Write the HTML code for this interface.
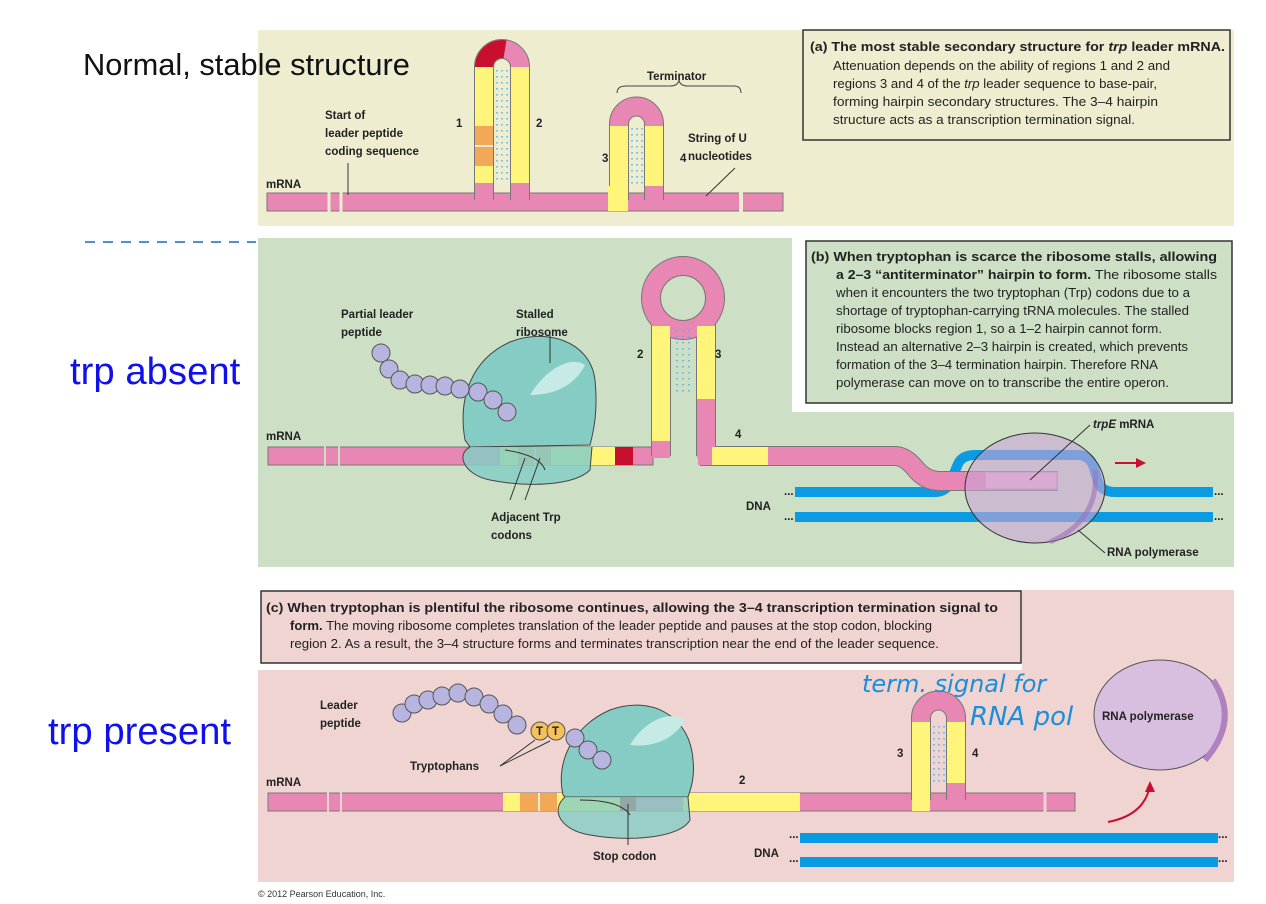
<!DOCTYPE html>
<html><head><meta charset="utf-8"><style>
html,body{margin:0;padding:0;background:#fff;}
svg{display:block;font-family:"Liberation Sans",sans-serif;}
.t{font-size:12.5px;fill:#222;}
.b{font-weight:bold;}
.l{font-size:11.5px;font-weight:bold;fill:#222;}
</style></head><body>
<svg width="1266" height="904" viewBox="0 0 1266 904" xmlns="http://www.w3.org/2000/svg">
<rect x="258" y="30" width="976" height="196" fill="#efedd0"/>
<rect x="803" y="30" width="427" height="110" fill="#efedd0" stroke="#333" stroke-width="1.5"/>
<text class="t" x="810" y="51" textLength="415" lengthAdjust="spacingAndGlyphs"><tspan class="b">(a) The most stable secondary structure for <tspan font-style="italic">trp</tspan> leader mRNA.</tspan></text>
<text class="t" x="833" y="70" textLength="337" lengthAdjust="spacingAndGlyphs">Attenuation depends on the ability of regions 1 and 2 and</text>
<text class="t" x="833" y="88" textLength="324" lengthAdjust="spacingAndGlyphs">regions 3 and 4 of the <tspan font-style="italic">trp</tspan> leader sequence to base-pair,</text>
<text class="t" x="833" y="106" textLength="325" lengthAdjust="spacingAndGlyphs">forming hairpin secondary structures. The 3–4 hairpin</text>
<text class="t" x="833" y="124" textLength="302" lengthAdjust="spacingAndGlyphs">structure acts as a transcription termination signal.</text>
<rect x="267" y="193" width="516" height="18" fill="#e887b3" stroke="#777" stroke-width="1"/>
<line x1="329" y1="192" x2="329" y2="212" stroke="#efedd0" stroke-width="3"/>
<line x1="341" y1="192" x2="341" y2="212" stroke="#efedd0" stroke-width="3"/>
<line x1="741" y1="192" x2="741" y2="212" stroke="#efedd0" stroke-width="4"/>
<path d="M484 200 L484 67 A18 18 0 0 1 520 67 L520 200" fill="none" stroke="#777" stroke-width="20"/>
<path d="M484 202 L484 67 A18 18 0 0 1 520 67 L520 202" fill="none" stroke="#e887b3" stroke-width="18"/>
<path d="M484 67 A18 18 0 0 1 505 49.3" fill="none" stroke="#c8102e" stroke-width="18"/>
<rect x="475" y="67" width="18" height="116" fill="#fff57a"/>
<rect x="511" y="67" width="18" height="116" fill="#fff57a"/>
<rect x="475" y="126" width="18" height="40" fill="#f3a857"/>
<line x1="475" y1="146" x2="493" y2="146" stroke="#fff" stroke-width="1.5"/>
<path d="M497 70V180M502 70V180M507 70V180" stroke="#4fb3e8" stroke-width="1.5" stroke-dasharray="1.5 4.5"/>
<path d="M619 200 L619 124 A17.5 17.5 0 0 1 654 124 L654 200" fill="none" stroke="#777" stroke-width="20"/>
<path d="M619 202 L619 124 A17.5 17.5 0 0 1 654 124 L654 202" fill="none" stroke="#e887b3" stroke-width="18"/>
<rect x="610" y="126" width="18" height="60" fill="#fff57a"/>
<rect x="645" y="126" width="18" height="60" fill="#fff57a"/>
<rect x="608" y="186" width="20" height="25" fill="#fff57a"/>
<path d="M632 128V185M637 128V185M642 128V185" stroke="#4fb3e8" stroke-width="1.5" stroke-dasharray="1.5 4.5"/>
<path d="M617 93 Q617 86 626 86 L670 86 Q678 86 679 80 Q680 86 688 86 L734 86 Q741 86 741 93" fill="none" stroke="#444" stroke-width="1"/>
<text class="l" x="647" y="80">Terminator</text>
<text class="l" x="325" y="119">Start of</text>
<text class="l" x="325" y="137">leader peptide</text>
<text class="l" x="325" y="155">coding sequence</text>
<line x1="348" y1="163" x2="348" y2="195" stroke="#333"/>
<text class="l" x="456" y="127">1</text><text class="l" x="536" y="127">2</text>
<text class="l" x="602" y="162">3</text><text class="l" x="680" y="162">4</text>
<text class="l" x="688" y="142">String of U</text><text class="l" x="688" y="160">nucleotides</text>
<line x1="735" y1="168" x2="706" y2="196" stroke="#333"/>
<text class="l" x="266" y="188">mRNA</text>
<text x="83" y="75" font-size="30.8" fill="#111">Normal, stable structure</text>
<line x1="85" y1="242" x2="256" y2="242" stroke="#4a8fd8" stroke-width="2" stroke-dasharray="10 8"/>

<rect x="258" y="238" width="976" height="329" fill="#cde0c6"/>
<rect x="792" y="238" width="442" height="174" fill="#fff"/>
<rect x="806" y="241" width="426" height="162" fill="#cde0c6" stroke="#333" stroke-width="1.5"/>
<text class="t" x="811" y="261" textLength="406" lengthAdjust="spacingAndGlyphs"><tspan class="b">(b) When tryptophan is scarce the ribosome stalls, allowing</tspan></text>
<text class="t" x="836" y="279" textLength="381" lengthAdjust="spacingAndGlyphs"><tspan class="b">a 2–3 “antiterminator” hairpin to form.</tspan> The ribosome stalls</text>
<text class="t" x="836" y="297" textLength="354" lengthAdjust="spacingAndGlyphs">when it encounters the two tryptophan (Trp) codons due to a</text>
<text class="t" x="836" y="315" textLength="353" lengthAdjust="spacingAndGlyphs">shortage of tryptophan-carrying tRNA molecules. The stalled</text>
<text class="t" x="836" y="333" textLength="326" lengthAdjust="spacingAndGlyphs">ribosome blocks region 1, so a 1–2 hairpin cannot form.</text>
<text class="t" x="836" y="351" textLength="352" lengthAdjust="spacingAndGlyphs">Instead an alternative 2–3 hairpin is created, which prevents</text>
<text class="t" x="836" y="369" textLength="322" lengthAdjust="spacingAndGlyphs">formation of the 3–4 termination hairpin. Therefore RNA</text>
<text class="t" x="836" y="387" textLength="333" lengthAdjust="spacingAndGlyphs">polymerase can move on to transcribe the entire operon.</text>
<path d="M795 492 L935 492 Q948 492 952 478 L958 464 Q962 455 975 455 L1078 455 Q1090 455 1094 468 L1098 482 Q1102 492 1115 492 L1213 492" fill="none" stroke="#0a9be3" stroke-width="10"/>
<rect x="795" y="512" width="418" height="10" fill="#0a9be3"/>
<text class="l" x="784" y="495">...</text><text class="l" x="784" y="520">...</text>
<text class="l" x="1214" y="495">...</text><text class="l" x="1214" y="520">...</text>
<rect x="268" y="447" width="385" height="18" fill="#e887b3" stroke="#777"/>
<line x1="325" y1="446" x2="325" y2="466" stroke="#cde0c6" stroke-width="2"/>
<line x1="339" y1="446" x2="339" y2="466" stroke="#cde0c6" stroke-width="2"/>
<path d="M700 456 L895 456 Q905 456 915 468 Q925 481 940 481 L1058 481" fill="none" stroke="#777" stroke-width="20"/>
<path d="M698 456 L895 456 Q905 456 915 468 Q925 481 940 481 L1058 481" fill="none" stroke="#e887b3" stroke-width="18"/>
<circle cx="683" cy="298" r="32" fill="none" stroke="#777" stroke-width="20"/>
<path d="M661 456 L661 322 M706 456 L706 322" stroke="#777" stroke-width="20"/>
<circle cx="683" cy="298" r="32" fill="none" stroke="#e887b3" stroke-width="18"/>
<path d="M661 458 L661 322 M706 458 L706 322" stroke="#e887b3" stroke-width="18"/>
<rect x="652" y="326" width="18" height="115" fill="#fff57a"/>
<rect x="697" y="326" width="18" height="73" fill="#fff57a"/>
<path d="M677 330V395M683 330V395M689 330V395" stroke="#4fb3e8" stroke-width="1.5" stroke-dasharray="1.5 4.5"/>
<rect x="500" y="447" width="115" height="18" fill="#fff57a"/>
<rect x="518" y="447" width="33" height="18" fill="#f3a857"/>
<line x1="535" y1="447" x2="535" y2="465" stroke="#fff" stroke-width="1.5"/>
<rect x="615" y="447" width="18" height="18" fill="#c8102e"/>
<rect x="712" y="447" width="56" height="18" fill="#fff57a"/>
<rect x="985" y="472" width="72" height="17" fill="#f4b4d2" stroke="#999" stroke-width="0.8"/>
<ellipse cx="1035" cy="488" rx="70" ry="55" fill="#c9a3d6" fill-opacity="0.6" stroke="#333" stroke-width="1"/>
<path d="M1095 470 Q1100 520 1050 542" fill="none" stroke="#a070b8" stroke-width="5" opacity="0.6"/>
<line x1="1115" y1="463" x2="1140" y2="463" stroke="#c8102e" stroke-width="2"/>
<path d="M1146 463 L1136 458 L1136 468 Z" fill="#c8102e"/>
<line x1="1090" y1="425" x2="1030" y2="480" stroke="#333"/>
<text class="l" x="1093" y="428"><tspan font-style="italic">trpE</tspan> mRNA</text>
<line x1="1078" y1="530" x2="1105" y2="553" stroke="#333"/>
<text class="l" x="1107" y="556">RNA polymerase</text>
<text class="l" x="746" y="510">DNA</text>
<path d="M465 440 C458 400 470 360 510 342 C545 328 590 340 595 380 C598 410 594 430 590 445 L470 447 Z" fill="#85cdc4" stroke="#444" stroke-width="1"/>
<path d="M530 395 C545 370 570 355 585 365 C575 385 555 395 530 395 Z" fill="#c6ebe6"/>
<path d="M470 447 C455 455 465 475 490 480 C530 488 575 485 590 470 L592 447" fill="#85cdc4" fill-opacity="0.85" stroke="#444" stroke-width="1"/>
<path d="M505 450 Q540 455 545 470" fill="none" stroke="#333"/>
<line x1="510" y1="500" x2="525" y2="458" stroke="#333"/><line x1="525" y1="500" x2="540" y2="458" stroke="#333"/>
<line x1="550" y1="363" x2="550" y2="335" stroke="#333"/>
<g fill="#b8b4e0" stroke="#555" stroke-width="1">
<circle cx="381" cy="353" r="9"/><circle cx="389" cy="369" r="9"/><circle cx="400" cy="380" r="9"/><circle cx="415" cy="384" r="9"/><circle cx="430" cy="385" r="9"/><circle cx="445" cy="386" r="9"/><circle cx="460" cy="389" r="9"/><circle cx="478" cy="392" r="9"/><circle cx="493" cy="400" r="9"/><circle cx="507" cy="412" r="9"/>
</g>
<text class="l" x="341" y="318">Partial leader</text><text class="l" x="341" y="336">peptide</text>
<text class="l" x="516" y="318">Stalled</text><text class="l" x="516" y="336">ribosome</text>
<text class="l" x="491" y="521">Adjacent Trp</text><text class="l" x="491" y="539">codons</text>
<text class="l" x="266" y="440">mRNA</text>
<text class="l" x="637" y="358">2</text><text class="l" x="715" y="358">3</text><text class="l" x="735" y="438">4</text>
<text x="70" y="384" font-size="38.3" fill="#1010ee">trp absent</text>

<rect x="258" y="670" width="976" height="212" fill="#efd4d2"/>
<rect x="1022" y="590" width="212" height="82" fill="#efd4d2"/>
<rect x="261" y="591" width="760" height="72" fill="#efd4d2" stroke="#333" stroke-width="1.5"/>
<text class="t" x="266" y="612" textLength="732" lengthAdjust="spacingAndGlyphs"><tspan class="b">(c) When tryptophan is plentiful the ribosome continues, allowing the 3–4 transcription termination signal to</tspan></text>
<text class="t" x="290" y="630" textLength="642" lengthAdjust="spacingAndGlyphs"><tspan class="b">form.</tspan> The moving ribosome completes translation of the leader peptide and pauses at the stop codon, blocking</text>
<text class="t" x="290" y="648" textLength="649" lengthAdjust="spacingAndGlyphs">region 2. As a result, the 3–4 structure forms and terminates transcription near the end of the leader sequence.</text>
<rect x="800" y="833" width="418" height="10" fill="#0a9be3"/>
<rect x="800" y="857" width="418" height="10" fill="#0a9be3"/>
<text class="l" x="789" y="838">...</text><text class="l" x="789" y="862">...</text>
<text class="l" x="1218" y="838">...</text><text class="l" x="1218" y="862">...</text>
<text class="l" x="754" y="857">DNA</text>
<rect x="268" y="793" width="807" height="18" fill="#e887b3" stroke="#777"/>
<line x1="328" y1="792" x2="328" y2="812" stroke="#efd4d2" stroke-width="2"/>
<line x1="341" y1="792" x2="341" y2="812" stroke="#efd4d2" stroke-width="2"/>
<line x1="1045" y1="792" x2="1045" y2="812" stroke="#efd4d2" stroke-width="3"/>
<path d="M921 800 L921 718 A17.5 17.5 0 0 1 956 718 L956 800" fill="none" stroke="#777" stroke-width="20"/>
<path d="M921 802 L921 718 A17.5 17.5 0 0 1 956 718 L956 802" fill="none" stroke="#e887b3" stroke-width="18"/>
<rect x="912" y="722" width="18" height="89" fill="#fff57a"/>
<rect x="947" y="722" width="18" height="61" fill="#fff57a"/>
<path d="M934 726V783M939 726V783M944 726V783" stroke="#4fb3e8" stroke-width="1.5" stroke-dasharray="1.5 4.5"/>
<rect x="503" y="793" width="117" height="18" fill="#fff57a"/>
<rect x="520" y="793" width="37" height="18" fill="#f3a857"/>
<line x1="539" y1="793" x2="539" y2="811" stroke="#fff" stroke-width="1.5"/>
<rect x="620" y="793" width="16" height="18" fill="#c8102e"/>
<rect x="683" y="793" width="117" height="18" fill="#fff57a"/>
<path d="M563 795 C555 760 575 725 610 710 C650 695 690 715 693 760 C695 780 690 790 688 797 L565 797 Z" fill="#85cdc4" stroke="#444" stroke-width="1"/>
<path d="M630 745 C645 720 670 710 685 720 C675 738 655 748 630 745 Z" fill="#c6ebe6"/>
<path d="M565 797 C550 810 560 830 590 835 C630 842 680 838 690 820 L688 797" fill="#85cdc4" fill-opacity="0.8" stroke="#444" stroke-width="1"/>
<path d="M580 800 Q620 800 630 815" fill="none" stroke="#333"/>
<line x1="628" y1="804" x2="628" y2="845" stroke="#333"/>
<g fill="#b8b4e0" stroke="#555" stroke-width="1">
<circle cx="402" cy="713" r="9"/><circle cx="414" cy="704" r="9"/><circle cx="428" cy="700" r="9"/><circle cx="442" cy="696" r="9"/><circle cx="458" cy="693" r="9"/><circle cx="474" cy="697" r="9"/><circle cx="489" cy="704" r="9"/><circle cx="503" cy="714" r="9"/><circle cx="517" cy="725" r="9"/><circle cx="575" cy="738" r="9"/><circle cx="588" cy="750" r="9"/><circle cx="602" cy="760" r="9"/>
</g>
<g fill="#f5c15a" stroke="#555" stroke-width="1"><circle cx="540" cy="731" r="9"/><circle cx="556" cy="731" r="9"/></g>
<text class="l" x="536" y="735">T</text><text class="l" x="552" y="735">T</text>
<line x1="500" y1="766" x2="535" y2="740" stroke="#333"/><line x1="500" y1="766" x2="550" y2="741" stroke="#333"/>
<text class="l" x="410" y="770">Tryptophans</text>
<text class="l" x="320" y="709">Leader</text><text class="l" x="320" y="727">peptide</text>
<text class="l" x="266" y="786">mRNA</text>
<text class="l" x="739" y="784">2</text><text class="l" x="897" y="757">3</text><text class="l" x="972" y="757">4</text>
<text class="l" x="593" y="860">Stop codon</text>
<ellipse cx="1160" cy="715" rx="66" ry="55" fill="#d8bfe0" stroke="#555" stroke-width="1"/>
<path d="M1213 680 Q1240 720 1205 760" fill="none" stroke="#b080c0" stroke-width="6"/>
<text class="l" x="1102" y="720">RNA polymerase</text>
<path d="M1108 822 Q1145 815 1150 785" fill="none" stroke="#c8102e" stroke-width="2"/>
<path d="M1150 781 L1145 792 L1155 792 Z" fill="#c8102e"/>
<text x="862" y="692" font-size="24" fill="#1a8fd8" font-style="italic" font-family="'DejaVu Sans',sans-serif">term. signal for</text>
<text x="970" y="725" font-size="26" fill="#1a8fd8" font-style="italic" font-family="'DejaVu Sans',sans-serif">RNA pol</text>
<text x="48" y="744" font-size="38.3" fill="#1010ee">trp present</text>
<text x="258" y="897" font-size="9" fill="#333">© 2012 Pearson Education, Inc.</text>
</svg>
</body></html>
